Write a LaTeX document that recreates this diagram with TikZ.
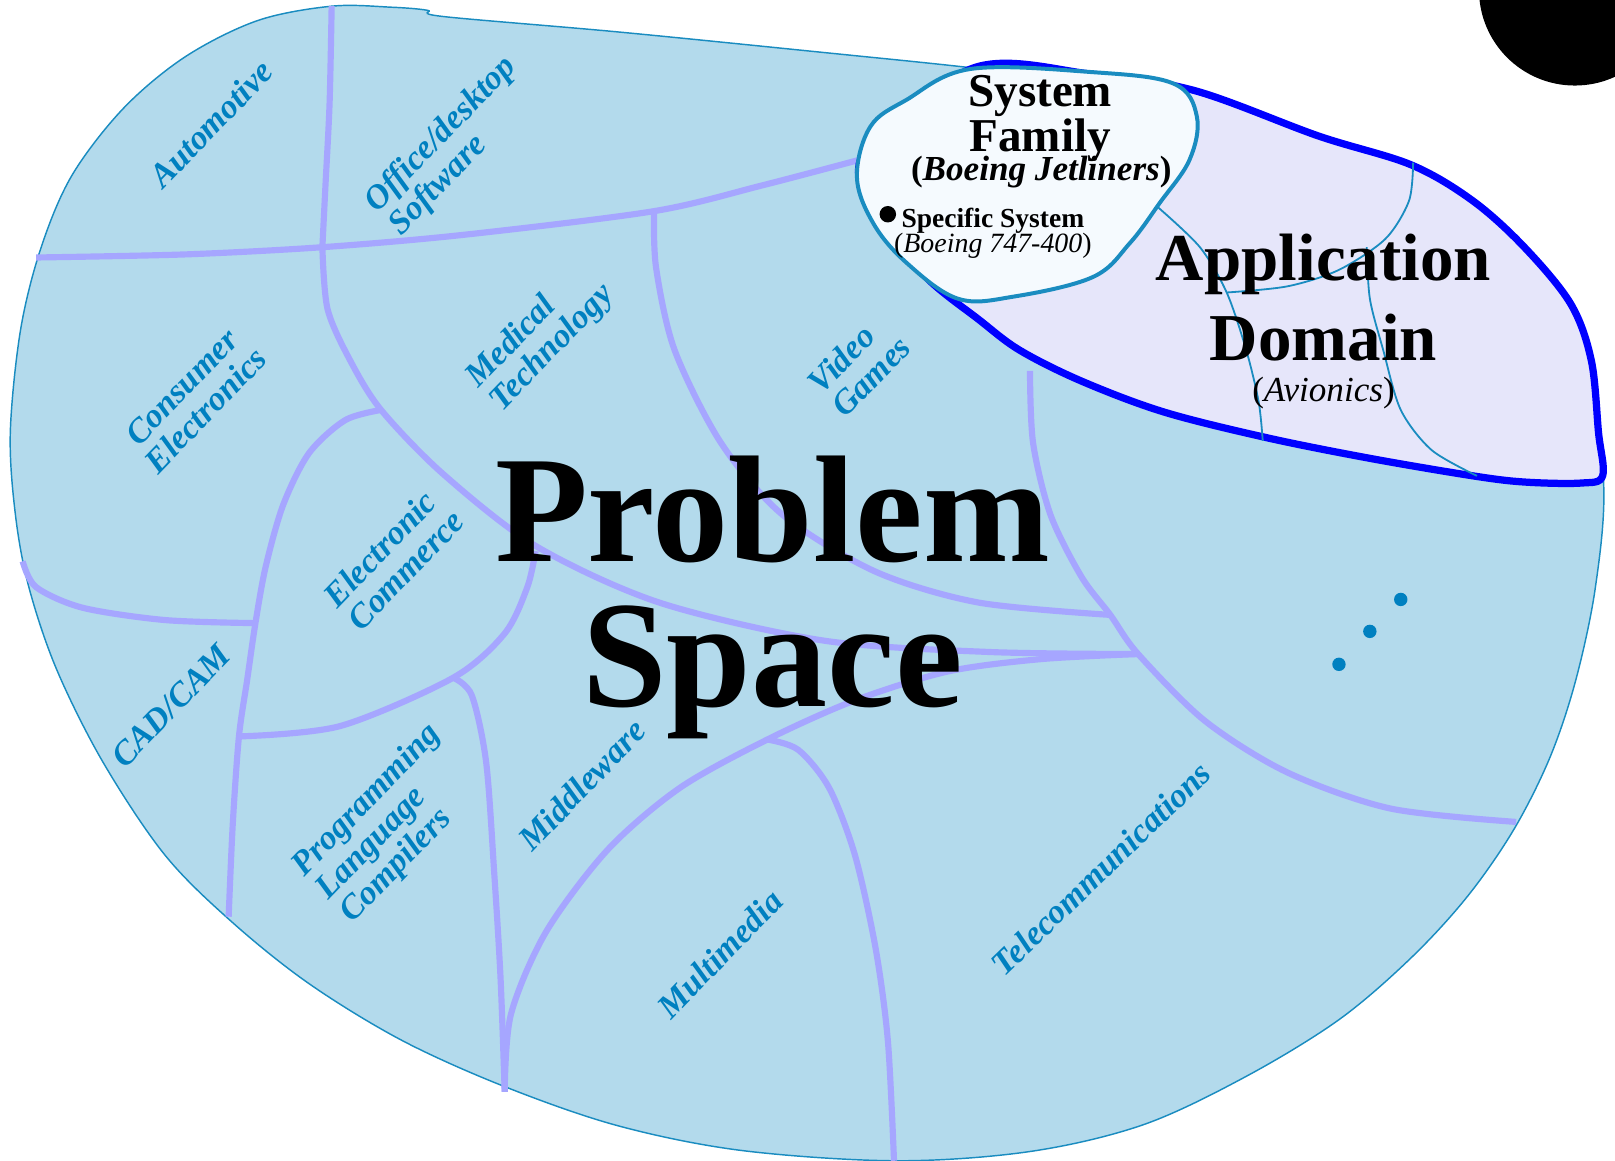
\documentclass[tikz,border=0pt]{standalone}
\usepackage{fontspec}
\setmainfont{Liberation Serif}
\usepackage{tikz}
\usetikzlibrary{calc}
\definecolor{spacefill}{HTML}{B3DAEC}
\definecolor{spaceedge}{HTML}{1A8CC0}
\definecolor{dividecol}{HTML}{A6A6FF}
\definecolor{labelblue}{HTML}{0080C0}
\definecolor{domainfill}{HTML}{E6E6FA}
\definecolor{domainedge}{HTML}{0000FF}
\definecolor{familyfill}{HTML}{F5FAFE}
\tikzstyle{problemspace}=[fill=spacefill, draw=spaceedge, line width=0.4pt]
\tikzstyle{divide}=[draw=dividecol, line width=1.7pt]
\tikzstyle{appdomain}=[fill=domainfill, draw=domainedge, line width=2pt]
\tikzstyle{sysfamily}=[fill=familyfill, draw=spaceedge, line width=1.1pt]
\tikzstyle{subline}=[draw=spaceedge, line width=0.5pt]
\tikzstyle{arealabel}=[text=labelblue, font={\fontsize{9.4}{9.2}\selectfont\bfseries\itshape}, rotate=46, align=left, inner sep=0pt]
\tikzstyle{title}=[text=black, align=center, inner sep=0pt]

\begin{document}
\begin{tikzpicture}[x=0.01cm, y=-0.01cm]

    \useasboundingbox (0,0) rectangle (1568,1127);

    % the whole problem space
    \filldraw[problemspace] plot[smooth cycle, tension=0.55] coordinates {
        (322,6) (380,7) (415,10) (430,16) (600,31) (800,51) (945,66) (1100,85)
        (1250,125) (1380,180) (1480,250) (1540,350) (1557,470) (1549,570)
        (1530,660) (1505,735) (1470,805) (1425,870) (1370,930) (1300,990)
        (1210,1045) (1110,1092) (1000,1118) (870,1127) (720,1117) (600,1093)
        (490,1055) (390,1010) (300,955) (225,895) (160,830) (100,740) (55,650)
        (28,570) (15,500) (10,420) (20,320) (40,240) (70,170) (120,105)
        (180,55) (250,20)};

    % borders between the domains
    \draw[divide] plot[smooth] coordinates {(322,6) (320,100) (316,180) (313,240)};
    \draw[divide] plot[smooth] coordinates {(35,250) (180,247) (313,240) (450,228) (635,205) (740,180) (835,155)};
    \draw[divide] plot[smooth] coordinates {(313,240) (318,300) (340,350) (370,398) (430,460) (520,530) (640,585) (800,622) (960,633) (1105,635)};
    \draw[divide] plot[smooth] coordinates {(635,205) (637,260) (655,340) (700,430) (760,500) (850,555) (950,585) (1078,597)};
    \draw[divide] plot[smooth] coordinates {(1000,360) (1003,430) (1020,500) (1050,560) (1078,597) (1105,635) (1170,700) (1250,750) (1350,785) (1472,798)};
    \draw[divide] plot[smooth] coordinates {(370,398) (335,408) (300,440) (275,490) (258,550) (248,605) (240,660) (232,715) (226,800) (222,890)};
    \draw[divide] plot[smooth] coordinates {(22,545) (35,570) (80,590) (160,602) (248,605)};
    \draw[divide] plot[smooth] coordinates {(232,715) (330,705) (440,658) (490,615) (512,570) (520,535)};
    \draw[divide] plot[smooth] coordinates {(440,658) (458,675) (472,740) (480,850) (486,950) (490,1060)};
    \draw[divide] plot[smooth] coordinates {(490,1060) (496,985) (530,905) (590,825) (660,765) (745,718) (830,680) (920,652) (1010,640) (1105,635)};
    \draw[divide] plot[smooth] coordinates {(745,718) (775,728) (805,765) (830,830) (850,920) (862,1010) (868,1127)};

    % application domain
    \filldraw[appdomain] plot[smooth cycle, tension=0.55] coordinates {
        (838,150) (945,66) (1060,72) (1160,88) (1280,132) (1370,160) (1430,195)
        (1480,240) (1525,295) (1545,350) (1552,420) (1556,462) (1535,469)
        (1480,468) (1430,462) (1330,445) (1230,425) (1130,400) (1050,370)
        (990,340) (950,310) (900,270) (855,215)};
    \draw[subline] plot[smooth] coordinates {(1124,201) (1165,240) (1191,284) (1210,340) (1222,390) (1226,428)};
    \draw[subline] plot[smooth] coordinates {(1372,158) (1368,195) (1345,232) (1300,262) (1250,278) (1191,284)};
    \draw[subline] plot[smooth] coordinates {(1327,240) (1330,290) (1343,340) (1360,398) (1390,437) (1434,462)};

    % system family
    \filldraw[sysfamily] plot[smooth cycle, tension=0.6] coordinates {
        (942,67) (1060,70) (1139,81) (1162,113) (1155,155) (1126,197) (1097,236)
        (1061,269) (984,288) (930,290) (880,255) (848,217) (832,172) (845,123)
        (880,97)};

    % corner disc
    \fill[black] (1529,-10) circle (0.93cm);

    % titles
    \node[title, font={\fontsize{42}{39.8}\selectfont\bfseries}] (problem) at (750,580) {Problem\\Space};
    \node[title, font={\fontsize{18.5}{22.2}\selectfont\bfseries}] (application) at (1285,289) {Application\\Domain};
    \node[title, font={\fontsize{9.7}{11}\selectfont}] (avionics) at (1285,382) {(\textit{Avionics})};
    \node[title, font={\fontsize{13}{12.5}\selectfont\bfseries}] (family) at (1010,115) {System\\Family};
    \node[title, font={\fontsize{9.7}{11}\selectfont\bfseries}] (jetliners) at (1011,167) {(\textit{Boeing Jetliners})};
    \fill[black] (862,208) circle (0.08cm);
    \node[title, font={\fontsize{7.6}{9}\selectfont\bfseries}] (specific) at (964,214) {Specific System};
    \node[title, font={\fontsize{7.7}{9}\selectfont}] (b747) at (964,239) {(\textit{Boeing 747-400})};

    % domain labels
    \node[arealabel] (automotive) at (205,120) {Automotive};
    \node[arealabel] (office) at (440,142) {Office/desktop\\Software};
    \node[arealabel, align=center] (consumer) at (188,387) {Consumer\\Electronics};
    \node[arealabel] (medical) at (525,327) {Medical\\Technology};
    \node[arealabel] (video) at (834,354) {Video\\Games};
    \node[arealabel] (ecommerce) at (382,542) {Electronic\\Commerce};
    \node[arealabel] (cadcam) at (166,685) {CAD/CAM};
    \node[arealabel] (compilers) at (380,800) {Programming\\Language\\Compilers};
    \node[arealabel] (middleware) at (565,762) {Middleware};
    \node[arealabel] (multimedia) at (699,926) {Multimedia};
    \node[arealabel, rotate=-2] (telecom) at (1069,843) {Telecommunications};

    % more domains
    \foreach \x/\y in {1360/582, 1330/613, 1300/645}
        \fill[labelblue] (\x,\y) circle (0.065cm);

\end{tikzpicture}
\end{document}
